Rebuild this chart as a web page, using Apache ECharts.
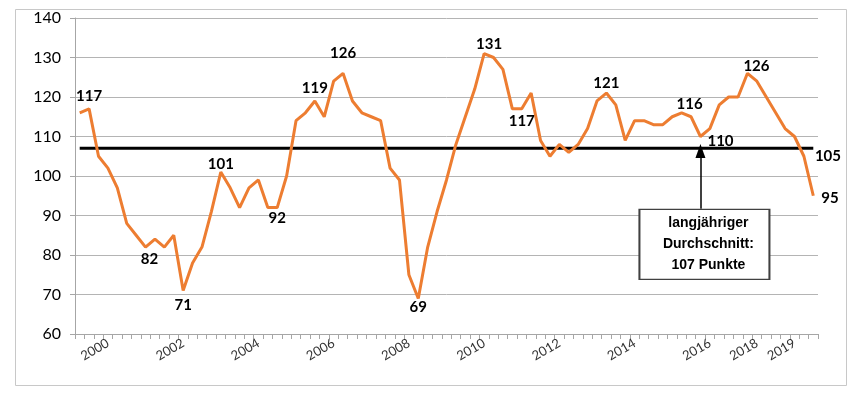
<!DOCTYPE html>
<html>
<head>
<meta charset="utf-8">
<script src="https://cdn.jsdelivr.net/npm/echarts@6/dist/echarts.min.js"></script>
<style>
html,body{margin:0;padding:0;background:#fff;}
#chart{width:858px;height:393px;}
</style>
</head>
<body>
<div id="chart"></div>
<script>
// quarterly index values (79 quarters)
const values = [116,117,105,102,97,88,85,82,84,82,
  85,71,78,82,91,101,97,92,97,99,
  92,92,100,114,116,119,115,124,126,119,
  116,115,114,102,99,75,69,82,91,99,
  108,115,122,131,130,127,117,117,121,109,
  105,108,106,108,112,119,121,118,109,114,
  114,113,113,115,116,115,110,112,118,120,
  120,126,124,120,116,112,110,105,95];
// year tick labels and the category index they sit on
const yearLabels = ['2000','2002','2004','2006','2008','2010','2012','2014','2016','2018','2019'];
const yearLabelIndex = [3,11,19,27,35,43,51,59,67,72,76];
const yTicks = [60,70,80,90,100,110,120,130,140];
const longTermAverage = 107;
const annotationText = ['langjähriger','Durchschnitt:', longTermAverage + ' Punkte'];
// indices of points carrying a value label
const labelledPoints = [1,7,11,15,21,25,28,36,43,47,56,64,66,71,77,78];
const annotationIndex = 66;

const categories = values.map(() => '');
yearLabelIndex.forEach((idx, k) => { categories[idx] = yearLabels[k]; });

// label styles (positions only, not data)
const labelStyle = {
  1:{position:'top',distance:5},
  7:{position:'bottom',distance:5,offset:[4,0]},
  11:{position:'bottom',distance:7},
  15:{position:'top',distance:0},
  21:{position:'bottom',distance:3},
  25:{position:'top',distance:5},
  28:{position:'top',distance:13},
  36:{position:'bottom',distance:1},
  43:{position:'top',distance:2,offset:[5,0]},
  47:{position:'bottom',distance:5},
  56:{position:'top',distance:2},
  64:{position:'top',distance:1,offset:[8,0]},
  66:{position:'right',distance:7,offset:[0,5]},
  71:{position:'top',distance:0,offset:[9,0]},
  77:{position:'right',distance:11},
  78:{position:'right',distance:8,offset:[0,2]}
};

const lineData = values.map((v, i) => {
  if (labelledPoints.indexOf(i) >= 0) {
    const s = labelStyle[i];
    return {value: v, label: Object.assign({show: true}, s)};
  }
  return {value: v};
});

const chart = echarts.init(document.getElementById('chart'), null, {renderer:'canvas'});
chart.setOption({
  animation: false,
  backgroundColor: '#fff',
  graphic: [{
    type: 'rect', left: 13, top: 7, z: -10,
    shape: {width: 831, height: 376},
    style: {fill: 'none', stroke: '#c8c8c8', lineWidth: 1}
  }],
  grid: {left: 75, right: 40, top: 18, bottom: 59, containLabel: false},
  xAxis: {
    type: 'category',
    data: categories,
    boundaryGap: true,
    axisLine: {show: true, lineStyle: {color: '#a6a6a6', width: 1}},
    axisTick: {show: true, interval: 0, length: 5, lineStyle: {color: '#a6a6a6'}},
    axisLabel: {interval: 0, rotate: 30, margin: 8, fontFamily: 'Lato', fontSize: 13, color: '#333'},
    splitLine: {show: false}
  },
  yAxis: {
    type: 'value',
    min: yTicks[0], max: yTicks[yTicks.length-1], interval: 10,
    axisLine: {show: true, lineStyle: {color: '#a6a6a6', width: 1}},
    axisTick: {show: true, length: 5, lineStyle: {color: '#a6a6a6'}},
    axisLabel: {margin: 14, fontFamily: 'Lato', fontSize: 16, color: '#000'},
    splitLine: {show: true, lineStyle: {color: '#b4b4b4', width: 1}}
  },
  series: [
    {
      name: 'Durchschnitt',
      type: 'line',
      data: values.map(() => longTermAverage),
      symbol: 'none',
      lineStyle: {color: '#000', width: 3},
      z: 2,
      markLine: {
        silent: true,
        symbol: ['none', 'triangle'],
        symbolSize: [10, 14],
        lineStyle: {color: '#000', width: 1.5, type: 'solid'},
        label: {show: false},
        data: [[{coord: [annotationIndex, 91.7]}, {coord: [annotationIndex, 106.3]}]]
      },
      markPoint: {
        silent: true,
        symbol: 'rect',
        symbolSize: [130, 70],
        symbolOffset: [4, 0],
        itemStyle: {color: '#fff', borderColor: '#404040', borderWidth: 1.5},
        label: {
          show: true, position: 'inside',
          formatter: annotationText.join('\n'),
          fontFamily: 'Liberation Sans', fontWeight: 'bold', fontSize: 14,
          lineHeight: 21, color: '#000', offset: [4, 0]
        },
        data: [{coord: [annotationIndex, 82.7]}]
      }
    },
    {
      name: 'Index',
      type: 'line',
      data: lineData,
      symbol: 'circle',
      symbolSize: 0,
      showSymbol: true,
      lineStyle: {color: '#ED7D31', width: 3},
      itemStyle: {color: '#ED7D31'},
      z: 3,
      label: {
        show: false,
        formatter: '{c}',
        fontFamily: 'Lato', fontWeight: 'bold', fontSize: 15, color: '#000'
      }
    }
  ]
});
</script>
</body>
</html>
